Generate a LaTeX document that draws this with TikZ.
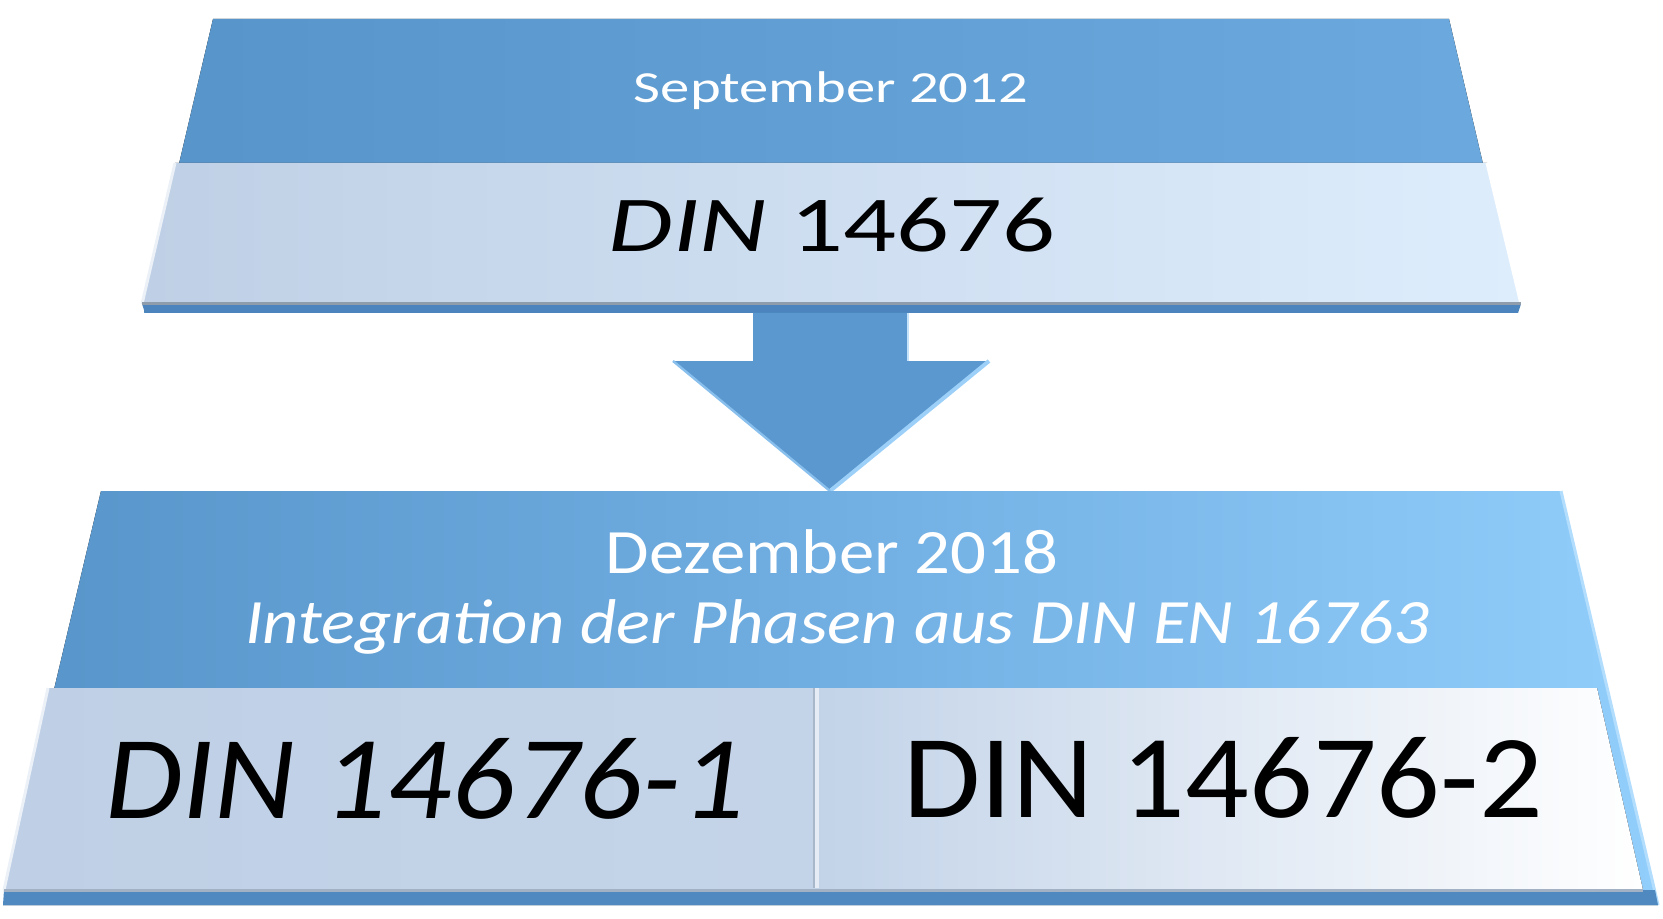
\documentclass[tikz,border=0pt]{standalone}
\usepackage{fontspec}
\setmainfont{Carlito}
\newfontfamily\topfont[FakeStretch=1.32]{Carlito}
\newfontfamily\midfont[FakeStretch=1.12]{Carlito}
\newfontfamily\bigfont[FakeStretch=1.06]{Carlito}
\usepackage{tikz}
\usetikzlibrary{positioning, calc}
\definecolor{bluedark}{HTML}{5694C9}
\definecolor{bluemid}{HTML}{6BA9DE}
\definecolor{bluelight}{HTML}{92CEFB}
\definecolor{bluestrip}{HTML}{4C85BD}
\definecolor{bandgrey}{HTML}{BFD0E6}
\definecolor{bandlight}{HTML}{DEEDFC}
\definecolor{bandcyan}{HTML}{EAFAFF}
\definecolor{arrowblue}{HTML}{5A98CF}
\definecolor{arrowedge}{HTML}{9CD0F8}

\begin{document}
\begin{tikzpicture}[x=0.5pt,y=-0.5pt,
    whitetext/.style={inner sep=0pt, anchor=base, text=white},
    blacktext/.style={inner sep=0pt, anchor=base, text=black}]
  \useasboundingbox (0,0) rectangle (1663,919);

  % upper block
  \fill[left color=bluedark, right color=bluemid] (213,19) -- (1449,19) -- (1518,313) -- (144,313) -- cycle;
  \fill[bluestrip] (142,304) -- (1521,304) -- (1518,313) -- (145,313) -- cycle;
  \fill[left color=bandgrey, right color=bandlight] (175,163) -- (1487,163) -- (1521,304) -- (142,304) -- cycle;
  \draw[white!70!bandgrey, line width=1.5] (175,163) -- (142,304);
  \draw[white, line width=1.5] (1487,163) -- (1521,304);
  \draw[black!25!bandgrey, line width=1.5] (142,304) -- (1521,304);

  \node[whitetext, font=\topfont\fontsize{22.2}{26}\selectfont] (sep) at (831,103) {September 2012};
  \node[blacktext, font=\topfont\fontsize{39.6}{46}\selectfont] (din) at (832,252) {\textit{DIN} 14676};

  % arrow
  \fill[arrowblue] (753,313) -- (908,313) -- (908,361) -- (989,361) -- (830,491) -- (673,361) -- (753,361) -- cycle;
  \draw[arrowedge, line width=2] (989,361) -- (830,491);
  \draw[arrowedge!60!white, line width=1.2] (908,313) -- (908,361);
  \draw[arrowedge!70!arrowblue, line width=1.2] (673,361) -- (830,491);

  % lower block
  \fill[left color=bluedark, right color=bluelight, middle color=bluemid!85!bluelight] (101,491) -- (1561,491) -- (1658,905) -- (3,905) -- cycle;
  \draw[bluelight!70!white, line width=1.5] (1561,491) -- (1658,905);
  \fill[bluestrip!90!bluemid] (4,890) -- (1655,890) -- (1658,905) -- (3,905) -- cycle;
  \fill[left color=bandgrey, right color=bandgrey!92!white] (48,688) -- (815,688) -- (815,890) -- (4,890) -- cycle;
  \fill[left color=bandgrey!90!bandlight, middle color=bandcyan, right color=white] (815,688) -- (1597,688) -- (1643,890) -- (815,890) -- cycle;
  \draw[white!70!bandgrey, line width=1.5] (48,688) -- (4,890);
  \draw[black!15!bandgrey, line width=1.5] (4,890) -- (1643,890);
  \draw[white!60!bandgrey, line width=2] (817,688) -- (817,888);
  \draw[black!12!bandgrey, line width=1] (814,688) -- (814,888);

  \node[whitetext, font=\midfont\fontsize{31.6}{36}\selectfont] (dez) at (832,573) {Dezember 2018};
  \node[whitetext, font=\midfont\itshape\fontsize{31.6}{36}\selectfont] (integ) at (837,643) {Integration der Phasen aus DIN EN 16763};
  \node[blacktext, font=\bigfont\itshape\fontsize{59.3}{68}\selectfont] (part1) at (425,818) {DIN 14676-1};
  \node[blacktext, font=\bigfont\fontsize{59.3}{68}\selectfont] (part2) at (1223,817) {DIN 14676-2};
\end{tikzpicture}
\end{document}
